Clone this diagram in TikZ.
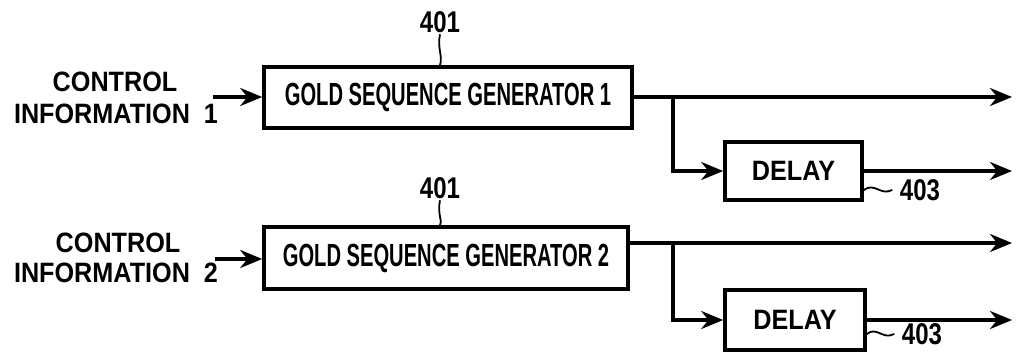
\documentclass[tikz,border=0pt]{standalone}
\usepackage{fontspec}
\setmainfont{Liberation Sans}
\newfontfamily\gfont[FakeStretch=0.63]{Liberation Sans}
\newfontfamily\lfont[FakeStretch=0.9]{Liberation Sans}
\newfontfamily\nfont[FakeStretch=0.8]{Liberation Sans}
\usetikzlibrary{arrows.meta}
\begin{document}
\begin{tikzpicture}[x=0.5pt,y=-0.5pt,
  line width=1.7pt,
  blk/.style={draw,line width=1.8pt,inner sep=0pt},
  arr/.style={-{Stealth[length=11pt,width=9pt]}},
  gtxt/.style={font=\gfont\bfseries\fontsize{16}{18}\selectfont},
  ltxt/.style={font=\lfont\bfseries\fontsize{14}{16}\selectfont,inner sep=0pt},
  ntxt/.style={font=\nfont\bfseries\fontsize{15}{17}\selectfont,inner sep=0pt},
  lead/.style={line width=0.9pt}]
\useasboundingbox (0,0) rectangle (1016,353);
% boxes
\node[blk,gtxt,minimum width=184pt,minimum height=30.5pt] (gen1) at (448,97.5) {GOLD SEQUENCE GENERATOR 1};
\node[blk,gtxt,minimum width=182pt,minimum height=31pt] (gen2) at (446,258) {GOLD SEQUENCE GENERATOR 2};
\node[blk,ltxt,minimum width=68.5pt,minimum height=29pt] (d1) at (793.5,171) {DELAY};
\node[blk,ltxt,minimum width=70pt,minimum height=30pt] (d2) at (795,320) {DELAY};
% input labels
\node[ltxt] (c1a) at (115,82) {CONTROL};
\node[ltxt] (c1b) at (116,114) {INFORMATION\ \ 1};
\node[ltxt] (c2a) at (118,243) {CONTROL};
\node[ltxt] (c2b) at (116,273) {INFORMATION\ \ 2};
% reference labels
\node[ntxt] (l401a) at (440,22) {401};
\node[ntxt] (l401b) at (440,188) {401};
\node[ntxt] (l403a) at (920,190) {403};
\node[ntxt] (l403b) at (922,334) {403};
% coordinates
\coordinate (i1) at (213,97);
\coordinate (i2) at (215,259);
\coordinate (o1) at (1012,97);
\coordinate (o2) at (1012,243);
\coordinate (o3) at (1012,171);
\coordinate (o4) at (1012,320);
\coordinate (b1) at (673,97);
\coordinate (b2) at (673,243);
% connectors
\draw[arr] (i1) -- (i1 -| gen1.west);
\draw[arr] (i2) -- (i2 -| gen2.west);
\draw[arr] (o1 -| gen1.east) -- (o1);
\draw[arr] (o2 -| gen2.east) -- (o2);
\draw[arr] (b1) |- (d1.west);
\draw[arr] (b2) |- (d2.west);
\draw[arr] (d1.east) -- (o3);
\draw[arr] (d2.east) -- (o4);
% leaders
\draw[lead] (l401a.south) .. controls (437,48) and (443,56) .. (gen1.north -| l401a);
\draw[lead] (l401b.south) .. controls (437,214) and (443,222) .. (gen2.north -| l401b);
\draw[lead] (d1.east |- l403a) .. controls (875,182) and (880,196) .. ([xshift=-3pt]l403a.west);
\draw[lead] (d2.east |- l403b) .. controls (877,326) and (882,340) .. ([xshift=-3pt]l403b.west);
\end{tikzpicture}
\end{document}
